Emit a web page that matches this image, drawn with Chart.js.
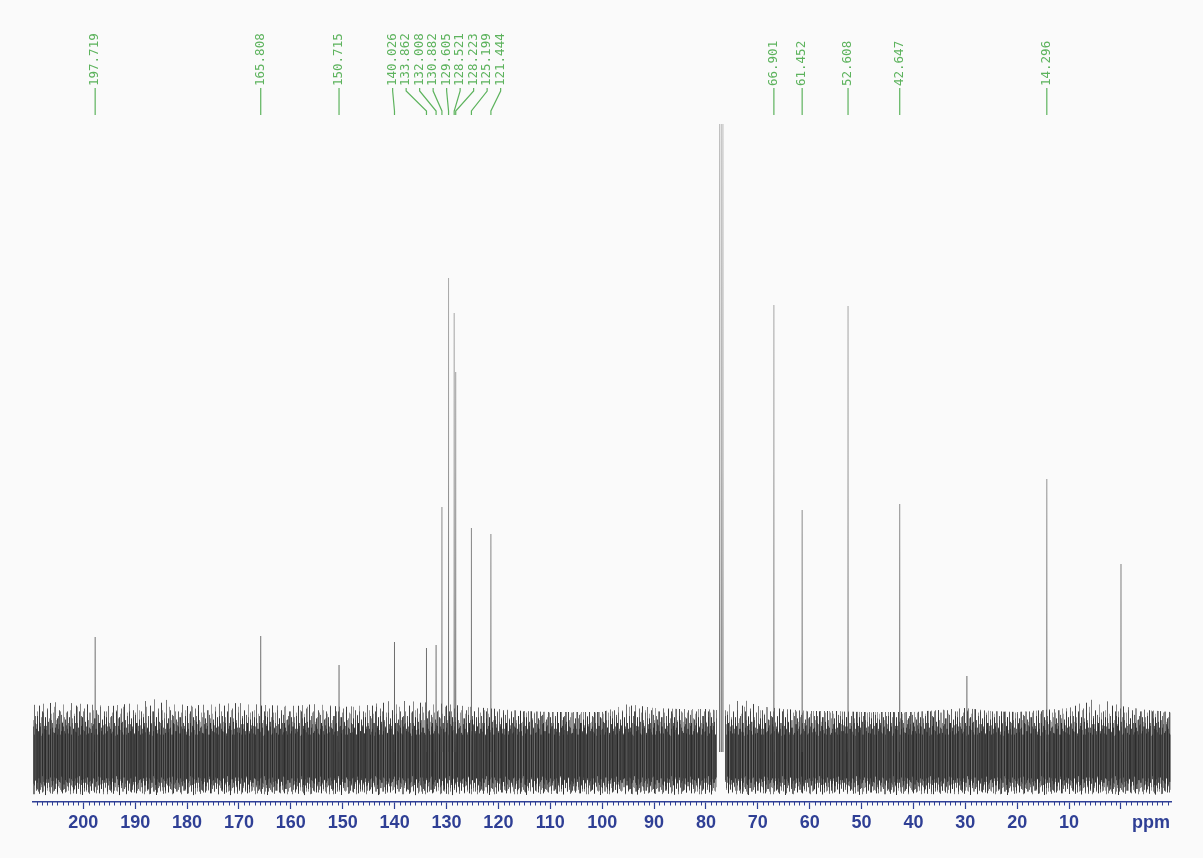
<!DOCTYPE html>
<html>
<head>
<meta charset="utf-8">
<title>13C NMR</title>
<script src="https://cdn.jsdelivr.net/npm/chart.js@4.4.1/dist/chart.umd.min.js"></script>
<style>
  html, body { margin: 0; padding: 0; background: #fafafa; }
  #wrap { width: 1203px; height: 858px; }
</style>
</head>
<body>
<div id="wrap"><canvas id="nmr" width="1203" height="858"></canvas></div>
<script>
// chemical shift window (ppm), drawn high -> low
const ppmMax = 209.7;
const ppmMin = -9.64;

// picked peaks, shift (ppm) and height
const labeledPpm = [197.719, 165.808, 150.715, 140.026, 133.862, 132.008, 130.882, 129.605,
                    128.521, 128.223, 125.199, 121.444, 66.901, 61.452, 52.608, 42.647, 14.296];
const labeledHeight = [115, 116, 87, 110, 104, 107, 245, 474,
                       439, 380, 224, 218, 447, 242, 446, 248, 273];

// CDCl3 triplet, grease, TMS (not picked)
const otherPpm = [77.36, 77.04, 76.72, 29.70, 0.0];
const otherHeight = [628, 628, 628, 76, 188];

// baseline noise envelope (spike tops / bottoms)
const noisePpm = [209.7, 205, 200, 195, 190, 185, 180, 175, 170, 165, 160, 155, 150, 145, 140,
                  135, 130, 125, 120, 115, 110, 105, 100, 95, 90, 85, 80, 77.9,
                  76.3, 75, 70, 65, 60, 55, 50, 45, 40, 35, 30, 25, 20, 15, 10, 5, 0, -5, -9.6];
const noiseHigh = [47, 50, 48, 46, 49, 54, 46, 48, 49, 47, 46, 48, 45, 47, 52,
                   50, 48, 45, 43, 41, 40, 40, 40, 48, 44, 43, 43, 42,
                   44, 58, 46, 43, 41, 41, 40, 40, 40, 42, 44, 41, 40, 42, 44, 55, 46, 42, 40];
const noiseLow = [-43, -44, -43, -44, -43, -43, -44, -43, -44, -43, -43, -44, -43, -43, -44,
                  -44, -44, -43, -43, -43, -42, -43, -43, -43, -42, -43, -43, -42,
                  -42, -43, -43, -43, -43, -42, -43, -43, -43, -42, -43, -43, -43, -43, -42, -43, -43, -43, -42];

const axisBlue = '#2f3f95';
const labelGreen = '#5db35d';

// hairline texture for the noise band: per column, reach up / down (fraction of band) and ink
const hairA = {
  up:   [0.62, 0.35, 0.8, 0.5, 0.28, 0.7, 0.95, 0.45, 0.6, 0.38, 0.75, 0.52, 0.3, 0.85, 0.55, 0.42, 0.68, 0.33, 0.9,
         0.48, 0.58, 0.4, 0.72, 0.3, 0.64, 0.5, 0.82, 0.36, 0.56, 0.46, 0.7, 0.32, 0.6, 0.44, 0.88, 0.5, 0.4],
  down: [0.85, 0.6, 0.95, 0.7, 0.8, 0.55, 0.9, 0.75, 0.98, 0.62, 0.82, 0.7, 0.9, 0.58, 0.8, 0.95, 0.66, 0.88, 0.72,
         0.6, 0.92, 0.78, 0.68, 0.86, 0.56, 0.94, 0.74, 0.84, 0.64, 0.9, 0.7, 0.8, 0.6, 0.96, 0.76, 0.66, 0.88],
  ink:  [0.75, 0.5, 0.85, 0.6, 0.45, 0.8, 0.55, 0.7, 0.9, 0.4, 0.65, 0.75, 0.5, 0.85, 0.55, 0.7, 0.45, 0.8, 0.6,
         0.65, 0.85, 0.5, 0.75, 0.55, 0.7, 0.9, 0.45, 0.65, 0.8, 0.55, 0.75, 0.5, 0.85, 0.6, 0.65, 0.45, 0.75]
};
const hairB = {
  up:   [0.45, 0.72, 0.3, 0.58, 0.4, 0.66, 0.5, 0.34, 0.78, 0.42, 0.55, 0.3, 0.62, 0.48, 0.7, 0.36, 0.52, 0.44, 0.6,
         0.32, 0.68, 0.4, 0.5],
  down: [0.7, 0.88, 0.62, 0.8, 0.94, 0.66, 0.76, 0.9, 0.58, 0.84, 0.72, 0.96, 0.64, 0.82, 0.7, 0.9, 0.6, 0.86, 0.74,
         0.92, 0.68, 0.78, 0.88],
  ink:  [0.6, 0.4, 0.75, 0.5, 0.65, 0.35, 0.7, 0.55, 0.45, 0.75, 0.4, 0.6, 0.65, 0.45, 0.55, 0.7, 0.35, 0.65, 0.5,
         0.75, 0.45, 0.6, 0.55]
};

const textureCache = {};
function hairTexture(chart, name, hair) {
  const y = chart.scales.y;
  if (!y || !chart.chartArea) return 'rgba(60,60,60,0.5)';
  const y0 = y.getPixelForValue(0);
  const key = name + ':' + y0;
  if (textureCache[key]) return textureCache[key];
  const reachUp = y0 - y.getPixelForValue(Math.max(...noiseHigh));
  const reachDown = y.getPixelForValue(Math.min(...noiseLow)) - y0;
  const c = document.createElement('canvas');
  c.width = hair.up.length;
  c.height = chart.height;
  const g = c.getContext('2d');
  hair.up.forEach((u, i) => {
    const top = y0 - u * reachUp;
    const bot = y0 + hair.down[i] * reachDown;
    g.fillStyle = 'rgba(32,32,32,' + hair.ink[i] + ')';
    g.fillRect(i, top, 1, bot - top);
  });
  textureCache[key] = g.createPattern(c, 'repeat-x');
  return textureCache[key];
}

// stick spectrum
const peakPoints = [];
labeledPpm.concat(otherPpm).forEach((p, i) => {
  const h = i < labeledPpm.length ? labeledHeight[i] : otherHeight[i - labeledPpm.length];
  peakPoints.push({x: p, y: 0}, {x: p, y: h}, {x: p, y: null});
});

// noise band, split at the solvent gap
const split = noisePpm.findIndex((p, i) => i > 0 && noisePpm[i - 1] > 77 && p < 77);
const parts = [[0, split], [split, noisePpm.length]];

const datasets = [{
  data: peakPoints,
  borderWidth: 1,
  pointRadius: 0,
  spanGaps: false,
  fill: false,
  borderColor: ctx => {
    const chart = ctx.chart;
    if (!chart.chartArea) return '#888';
    const y0 = chart.scales.y.getPixelForValue(0);
    const g = chart.ctx.createLinearGradient(0, y0, 0, chart.chartArea.top);
    g.addColorStop(0, 'rgba(70,70,70,0.9)');
    g.addColorStop(0.45, 'rgba(130,130,130,0.85)');
    g.addColorStop(1, 'rgba(175,175,175,0.85)');
    return g;
  }
}];
[['a', hairA], ['b', hairB]].forEach(([name, hair]) => {
  parts.forEach(([a, b]) => {
    const ppm = noisePpm.slice(a, b);
    datasets.push({
      data: ppm.map((p, k) => ({x: p, y: noiseHigh[a + k]})),
      fill: '+1',
      backgroundColor: ctx => hairTexture(ctx.chart, name, hair),
      borderWidth: 0, pointRadius: 0
    });
    datasets.push({
      data: ppm.map((p, k) => ({x: p, y: noiseLow[a + k]})),
      fill: false, borderWidth: 0, pointRadius: 0
    });
  });
});

// spread crowded peak labels evenly around their peaks
function spreadLabels(xs, gap) {
  const groups = [];
  xs.forEach((x, i) => {
    groups.push({ids: [i], sum: x, n: 1, start: x});
    while (groups.length > 1) {
      const b = groups[groups.length - 1], a = groups[groups.length - 2];
      if (a.start + a.n * gap > b.start) {
        a.ids = a.ids.concat(b.ids); a.sum += b.sum; a.n += b.n;
        a.start = a.sum / a.n - (a.n - 1) * gap / 2;
        groups.pop();
      } else break;
    }
  });
  const out = [];
  groups.forEach(g => g.ids.forEach((id, k) => { out[id] = g.start + k * gap; }));
  return out;
}

const nmrDecor = {
  id: 'nmrDecor',
  afterDraw(chart) {
    const ctx = chart.ctx, x = chart.scales.x, area = chart.chartArea;
    ctx.save();

    // minor ticks every ppm
    ctx.strokeStyle = axisBlue;
    ctx.lineWidth = 1;
    ctx.beginPath();
    for (let v = Math.ceil(x.min); v <= Math.floor(x.max); v++) {
      if (v % 10 === 0) continue;
      const px = Math.round(x.getPixelForValue(v)) + 0.5;
      ctx.moveTo(px, area.bottom);
      ctx.lineTo(px, area.bottom + 3.5);
    }
    ctx.stroke();

    ctx.fillStyle = axisBlue;
    ctx.font = 'bold 18px "Liberation Sans", Arial, sans-serif';
    ctx.textAlign = 'center';
    ctx.textBaseline = 'middle';
    ctx.fillText('ppm', x.right - 20, area.bottom + 21);

    // peak pick labels
    const targets = labeledPpm.map(v => x.getPixelForValue(v));
    const order = targets.map((t, i) => i).sort((a, b) => targets[a] - targets[b]);
    const spots = spreadLabels(order.map(i => targets[i]), 13.5);
    ctx.fillStyle = labelGreen;
    ctx.strokeStyle = labelGreen;
    ctx.lineWidth = 1.2;
    ctx.font = '12.5px "DejaVu Sans Mono", monospace';
    ctx.textAlign = 'left';
    order.forEach((idx, k) => {
      const lx = spots[k], tx = targets[idx];
      ctx.save();
      ctx.translate(lx, 86);
      ctx.rotate(-Math.PI / 2);
      ctx.fillText(labeledPpm[idx].toFixed(3), 0, 0);
      ctx.restore();
      ctx.beginPath();
      ctx.moveTo(lx, 88);
      if (Math.abs(lx - tx) < 1) {
        ctx.lineTo(tx, 115);
      } else {
        ctx.lineTo(lx, 91);
        ctx.lineTo(tx, 111);
        ctx.lineTo(tx, 115);
      }
      ctx.stroke();
    });
    ctx.restore();
  }
};

new Chart(document.getElementById('nmr'), {
  type: 'line',
  data: { datasets: datasets },
  options: {
    responsive: false,
    animation: false,
    layout: { padding: { top: 122, left: 33, right: 32, bottom: 0 } },
    plugins: { legend: { display: false }, tooltip: { enabled: false } },
    elements: { line: { tension: 0 } },
    scales: {
      x: {
        type: 'linear',
        reverse: true,
        min: ppmMin,
        max: ppmMax,
        border: { display: true, color: axisBlue, width: 1.5 },
        grid: { display: true, drawOnChartArea: false, drawTicks: true, tickLength: 7, tickColor: axisBlue, tickWidth: 1.2 },
        ticks: {
          stepSize: 10,
          includeBounds: false,
          autoSkip: false,
          maxRotation: 0,
          padding: 3,
          color: axisBlue,
          font: { family: '"Liberation Sans", Arial, sans-serif', size: 18, weight: 'bold' },
          callback: v => (v === 0 ? '' : String(v))
        },
        afterFit: s => { s.height = 56; }
      },
      y: { display: false, min: -50, max: 630 }
    }
  },
  plugins: [nmrDecor]
});
</script>
</body>
</html>
